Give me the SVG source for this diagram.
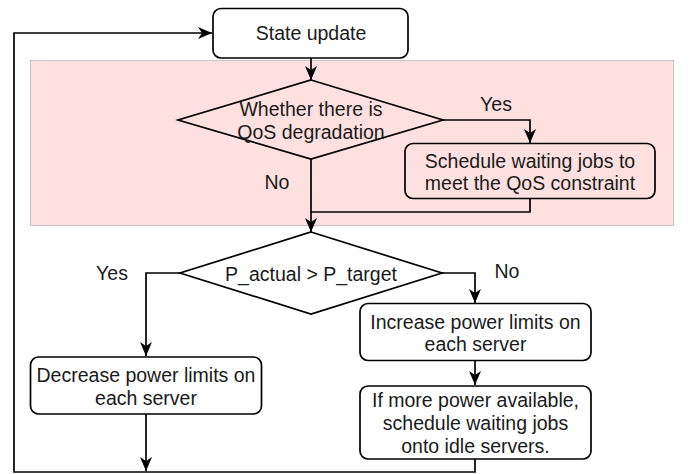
<svg xmlns="http://www.w3.org/2000/svg" width="691" height="474" viewBox="0 0 691 474">
  <defs>
    <marker id="arrow" viewBox="0 0 14 13" refX="14" refY="6.5" markerWidth="14" markerHeight="13" markerUnits="userSpaceOnUse" orient="auto">
      <path d="M0,0.5 L14,6.5 L0,12.5 L4,6.5 Z" fill="#000"/>
    </marker>
  </defs>
  <style>
    .box { fill: #fff; stroke: #000; stroke-width: 1.7; }
    .pinkbox { fill: #ffe0e0; stroke: #000; stroke-width: 1.7; }
    .dia { fill: none; stroke: #000; stroke-width: 1.7; }
    .edge { fill: none; stroke: #000; stroke-width: 1.7; }
    .arr { marker-end: url(#arrow); }
    text { font-family: "Liberation Sans", Arial, sans-serif; font-size: 19.5px; fill: #1a1a1a; text-anchor: middle; dominant-baseline: central; }
  </style>
  <rect id="qos-region" x="30.5" y="60.5" width="643" height="165" fill="#ffe0e0" stroke="#c4c4c4" stroke-width="1"/>

  <g id="connectors">
    <path class="edge arr" d="M311,58 L311,80"/>
    <path class="edge arr" d="M443,120 L530,120 L530,143"/>
    <path class="edge" d="M530,198 L530,212 L311,212"/>
    <path class="edge arr" d="M311,159 L311,232"/>
    <path class="edge arr" d="M180,273 L146,273 L146,356"/>
    <path class="edge arr" d="M442,273 L475,273 L475,303"/>
    <path class="edge arr" d="M475,361 L475,385"/>
    <path class="edge arr" d="M146,414 L146,471"/>
    <path class="edge arr" d="M475,459 L475,472 L14,472 L14,33 L212,33"/>
  </g>
  <g id="edge-labels">
    <text x="496" y="104">Yes</text>
    <text x="277" y="182">No</text>
    <text x="112" y="273">Yes</text>
    <text x="507" y="271">No</text>
  </g>

  <g id="state-update">
    <rect class="box" x="213" y="8.5" width="195" height="49.5" rx="8"/>
    <text x="311" y="33">State update</text>
  </g>
  <g id="qos-decision">
    <polygon class="dia" points="311,80 443,120 311,159 178,120"/>
    <text x="311" y="109">Whether there is</text>
    <text x="311" y="132">QoS degradation</text>
  </g>
  <g id="schedule-qos">
    <rect class="pinkbox" x="405" y="143.5" width="250" height="55" rx="8"/>
    <text x="530" y="160.5">Schedule waiting jobs to</text>
    <text x="530" y="183">meet the QoS constraint</text>
  </g>
  <g id="power-decision">
    <polygon class="dia" points="311,232 442,273 311,314 180,273"/>
    <text x="311" y="273.5">P_actual &gt; P_target</text>
  </g>
  <g id="decrease">
    <rect class="box" x="30.5" y="357" width="231" height="57" rx="8"/>
    <text x="146" y="375">Decrease power limits on</text>
    <text x="146" y="397.5">each server</text>
  </g>
  <g id="increase">
    <rect class="box" x="360" y="303.5" width="231" height="57" rx="8"/>
    <text x="475.5" y="321.5">Increase power limits on</text>
    <text x="475.5" y="343.5">each server</text>
  </g>
  <g id="schedule-idle">
    <rect class="box" x="360" y="386" width="231" height="73" rx="8"/>
    <text x="475.5" y="400">If more power available,</text>
    <text x="475.5" y="423">schedule waiting jobs</text>
    <text x="475.5" y="446">onto idle servers.</text>
  </g>
</svg>
